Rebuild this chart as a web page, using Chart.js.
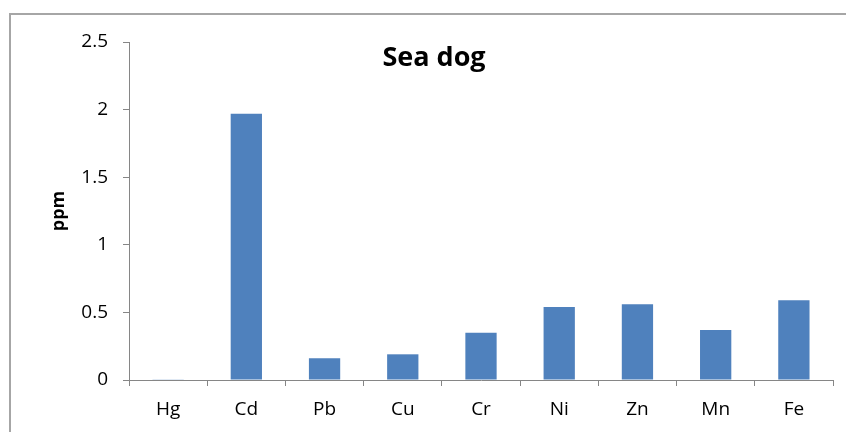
<!DOCTYPE html>
<html>
<head>
<meta charset="utf-8">
<script src="https://cdn.jsdelivr.net/npm/chart.js@4"></script>
<style>
  body { margin: 0; background: #fff; }
  #wrap { position: relative; width: 846px; height: 432px; overflow: hidden; }
  #frame { position: absolute; left: 9px; top: 13px; width: 900px; height: 500px; border: 2px solid #a6a6a6; }
  canvas { position: absolute; left: 0; top: 0; }
</style>
</head>
<body>
<div id="wrap">
  <div id="frame"></div>
  <canvas id="grafico" width="846" height="432"></canvas>
</div>
<script>
const titulo = 'Sea dog';
const rotuloY = 'ppm';
const elementos = ['Hg', 'Cd', 'Pb', 'Cu', 'Cr', 'Ni', 'Zn', 'Mn', 'Fe'];
const valores = [0.005, 1.97, 0.16, 0.19, 0.35, 0.54, 0.56, 0.37, 0.59];
const ticksY = [0, 0.5, 1, 1.5, 2, 2.5];

const fonte = '"Open Sans", "DejaVu Sans", sans-serif';
const corEixo = '#868686';

// titulo desenhado dentro da area do grafico, como no Excel
const tituloPlugin = {
  id: 'tituloInterno',
  afterDraw(chart) {
    const ctx = chart.ctx;
    ctx.save();
    ctx.font = 'bold 27px ' + fonte;
    ctx.fillStyle = '#000';
    ctx.textAlign = 'center';
    ctx.textBaseline = 'alphabetic';
    ctx.fillText(titulo, 434, 66);
    ctx.restore();
  }
};

new Chart(document.getElementById('grafico'), {
  type: 'bar',
  data: {
    labels: elementos,
    datasets: [{
      data: valores,
      backgroundColor: '#4f81bd',
      borderWidth: 0,
      barPercentage: 0.4,
      categoryPercentage: 1
    }]
  },
  options: {
    responsive: false,
    animation: false,
    layout: { padding: { left: 38, top: 42, right: 13, bottom: 0 } },
    plugins: { legend: { display: false }, tooltip: { enabled: false }, title: { display: false } },
    scales: {
      x: {
        grid: { display: true, drawOnChartArea: false, drawTicks: true, tickLength: 6, color: corEixo, lineWidth: 1 },
        border: { color: corEixo, width: 1 },
        ticks: { color: '#000', font: { family: fonte, size: 19 }, padding: 12 },
        afterFit(scale) { scale.height = 52; }
      },
      y: {
        min: 0,
        max: 2.5,
        afterBuildTicks(scale) { scale.ticks = ticksY.map(v => ({ value: v })); },
        grid: { display: true, drawOnChartArea: false, drawTicks: true, tickLength: 6, color: corEixo, lineWidth: 1 },
        border: { color: corEixo, width: 1 },
        ticks: { color: '#000', font: { family: fonte, size: 19 }, padding: 15, callback: v => String(v) },
        title: { display: true, text: rotuloY, color: '#000', font: { family: fonte, size: 18, weight: 'bold' }, padding: { top: 10, bottom: 0 } },
        afterFit(scale) { scale.width = 129 - 38; }
      }
    }
  },
  plugins: [tituloPlugin]
});
</script>
</body>
</html>
